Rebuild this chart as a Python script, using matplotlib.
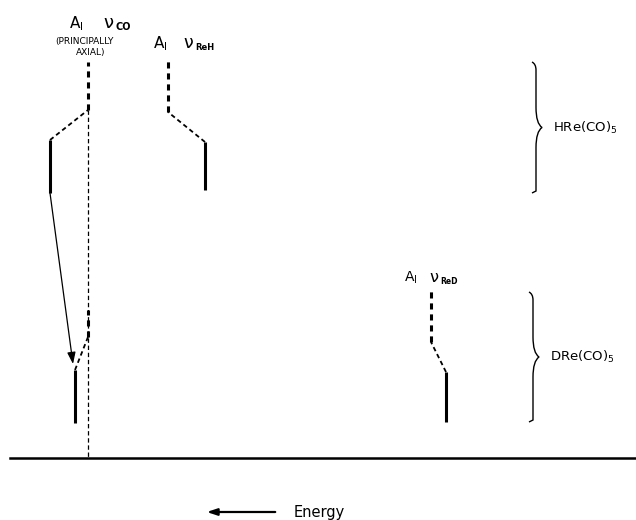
import matplotlib
matplotlib.use("Agg")
import matplotlib.pyplot as plt
from matplotlib.path import Path
from matplotlib.patches import PathPatch, FancyArrowPatch

plt.rcParams['font.family'] = ['DejaVu Sans']
plt.rcParams['mathtext.fontset'] = 'dejavusans'

# ---- data (diagram coordinates, y measured downward) ----
molecules = ["HRe(CO)$_5$", "DRe(CO)$_5$"]
mode_names = ["CO", "ReH", "ReD"]

# HRe(CO)5 levels: observed (solid) and mode origin (dashed stem)
hre_solid_x = [50, 205]
hre_solid_top = [140, 142]
hre_solid_bot = [193, 190]
hre_stem_x = [88, 168]
hre_stem_top = [62, 58]
hre_stem_bot = [110, 112]

# DRe(CO)5 levels
dre_solid_x = [75, 446]
dre_solid_top = [370, 372]
dre_solid_bot = [423, 422]
dre_stem_x = [88, 431]
dre_stem_top = [310, 289]
dre_stem_bot = [337, 342]

# reference line and axis
ref_x = 88
axis_y = 458
axis_x = [10, 636]

# braces (x, top, bottom)
brace_x = [536, 533]
brace_top = [62, 292]
brace_bot = [193, 422]

fig = plt.figure(figsize=(6.36, 5.2), dpi=100)
ax = fig.add_axes([0, 0, 1, 1])
ax.set_xlim(0, 636)
ax.set_ylim(520, 0)
ax.axis('off')

k = 'black'

def level(sx, st, sb, tx, tt, tb):
    ax.plot([sx, sx], [st, sb], color=k, lw=2.2, solid_capstyle='butt')
    ax.plot([sx, tx], [st, tb], color=k, lw=1.3, ls=(0, (2.5, 1.8)))
    ax.plot([tx, tx], [tb, tt], color=k, lw=2.2, ls=(0, (2.0, 1.6)))

for i in range(2):
    level(hre_solid_x[i], hre_solid_top[i], hre_solid_bot[i],
          hre_stem_x[i], hre_stem_top[i], hre_stem_bot[i])
    level(dre_solid_x[i], dre_solid_top[i], dre_solid_bot[i],
          dre_stem_x[i], dre_stem_top[i], dre_stem_bot[i])

# long thin dashed reference line
ax.plot([ref_x, ref_x], [hre_stem_bot[0], axis_y], color=k, lw=0.9,
        ls=(0, (3.5, 2.2)))

# base axis
ax.plot(axis_x, [axis_y, axis_y], color=k, lw=1.8)

# correlation arrow
arr = FancyArrowPatch((hre_solid_x[0], hre_solid_bot[0]),
                      (dre_solid_x[0] - 2, dre_solid_top[0] - 6),
                      arrowstyle='-|>,head_length=7,head_width=2.5',
                      color=k, lw=0.9, shrinkA=0, shrinkB=0)
ax.add_patch(arr)

# labels
def mode_label(xa, xn, xs, y, name, fa, fn, fs):
    ax.text(xa, y, "A$_\\mathsf{I}$", fontsize=fa, ha='left', va='baseline')
    ax.text(xn, y, "\u03bd", fontsize=fn, ha='left', va='baseline')
    ax.text(xs, y + 2, name, fontsize=fs, ha='left', va='baseline',
            fontweight='bold')

mode_label(69, 103, 116, 28, mode_names[0], 11, 13, 7)
mode_label(153, 183, 195, 48, mode_names[1], 11, 12.5, 6)
mode_label(404, 429, 440, 282, mode_names[2], 10, 11.5, 5.5)

ax.text(84, 44, "(PRINCIPALLY", fontsize=6.5, ha='center', va='baseline')
ax.text(91, 55, "AXIAL)", fontsize=6.5, ha='center', va='baseline')

# braces
def brace(x, y0, y1, w=6):
    ym = (y0 + y1) / 2
    c = 4
    verts = [(x - c, y0), (x, y0 + 2), (x, y0 + 8), (x, y0 + 20),
             (x, ym - 20), (x, ym - 4), (x + w, ym),
             (x, ym + 4), (x, ym + 20),
             (x, y1 - 20), (x, y1 - 8), (x, y1 - 2), (x - c, y1)]
    codes = [Path.MOVETO, Path.CURVE3, Path.CURVE3, Path.LINETO,
             Path.LINETO, Path.CURVE3, Path.CURVE3,
             Path.CURVE3, Path.CURVE3,
             Path.LINETO, Path.CURVE3, Path.CURVE3, Path.LINETO]
    ax.add_patch(PathPatch(Path(verts, codes), fill=False, lw=1.0, color=k))
    return ym

for i in range(2):
    ym = brace(brace_x[i], brace_top[i], brace_bot[i])
    ax.text(brace_x[i] + 17, ym, molecules[i], fontsize=9.5,
            ha='left', va='center')

# energy arrow
ax.annotate("", xy=(204, 512), xytext=(278, 512),
            arrowprops=dict(arrowstyle='-|>,head_length=0.6,head_width=0.2',
                            color=k, lw=1.6))
ax.text(294, 513, "Energy", fontsize=10.5, ha='left', va='center')

fig.savefig("out.png", dpi=100)
